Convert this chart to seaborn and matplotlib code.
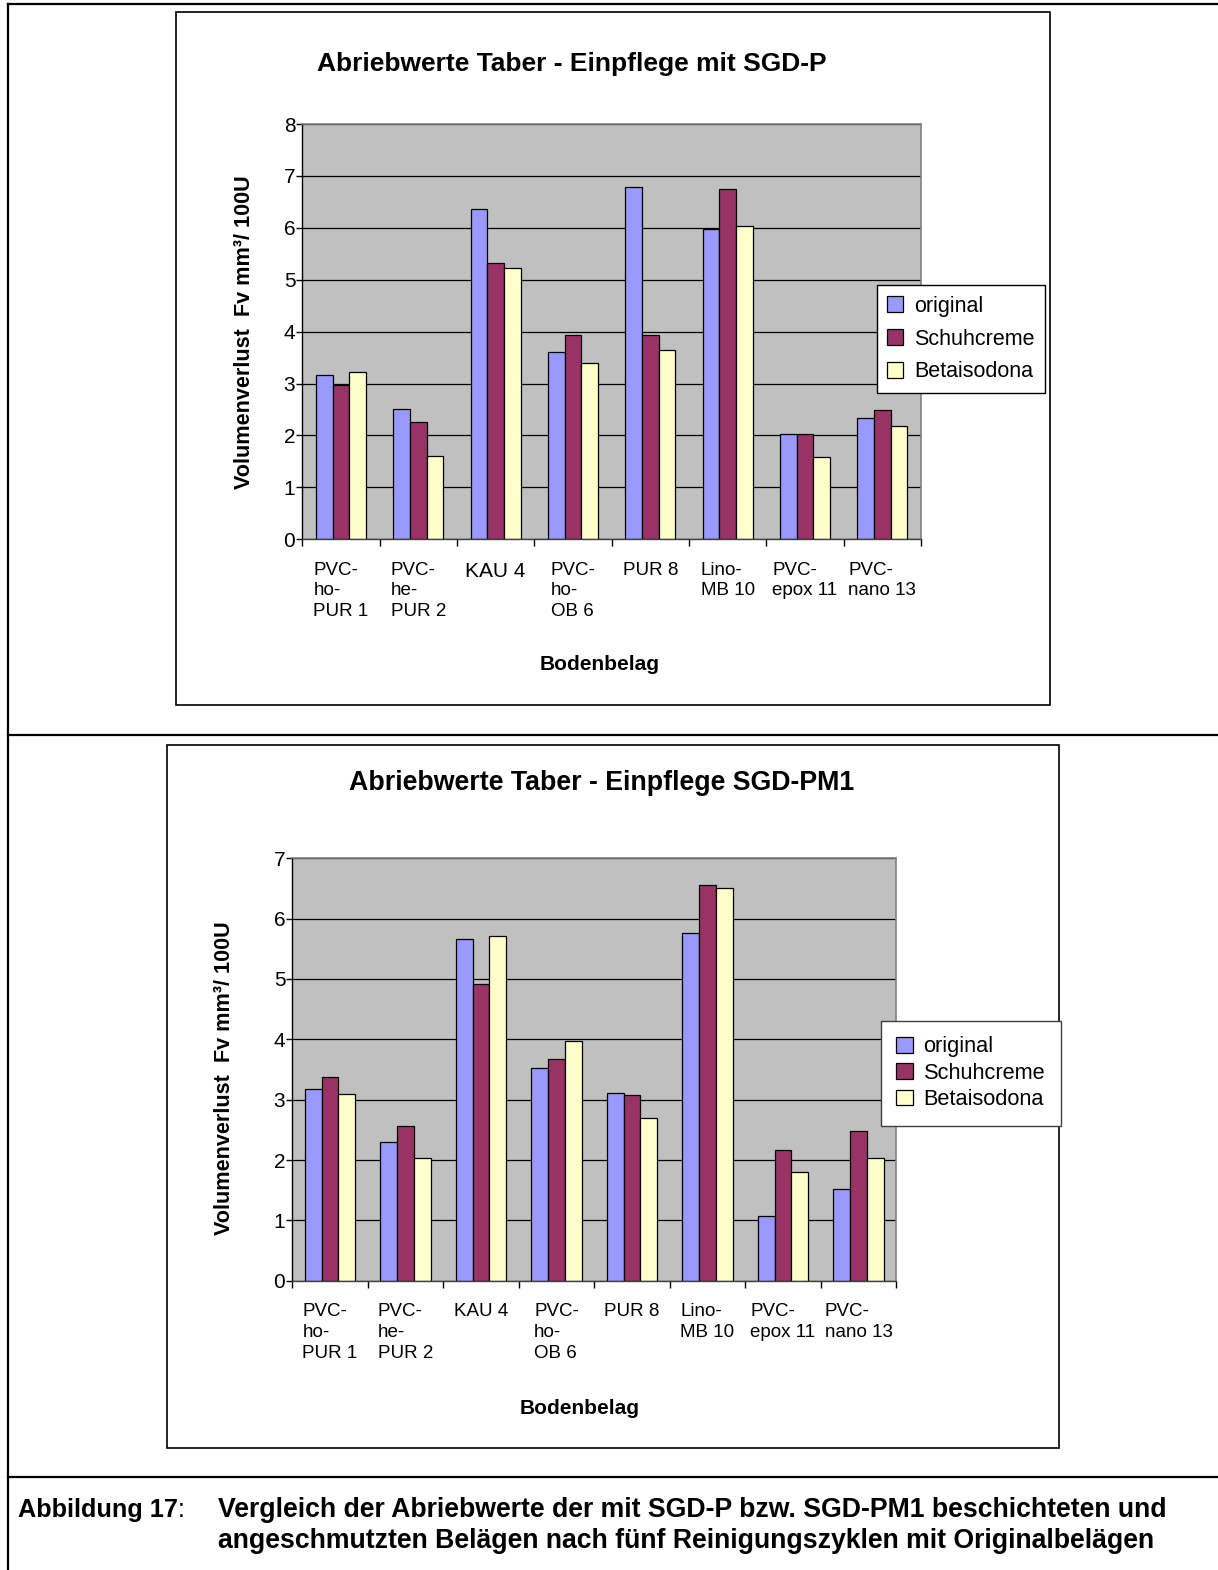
import numpy as np
import pandas as pd
import matplotlib
matplotlib.use("Agg")
import matplotlib.pyplot as plt
import seaborn as sns
from matplotlib.lines import Line2D
from matplotlib.patches import Rectangle

plt.rcParams['font.family'] = ['Liberation Sans', 'DejaVu Sans']

# ---------------- data ----------------
categories = ["PVC-\nho-\nPUR 1", "PVC-\nhe-\nPUR 2", "KAU 4", "PVC-\nho-\nOB 6",
              "PUR 8", "Lino-\nMB 10", "PVC-\nepox 11", "PVC-\nnano 13"]
series = ["original", "Schuhcreme", "Betaisodona"]
colors = ["#9999FF", "#993366", "#FFFFCC"]

top_original = [3.17, 2.51, 6.36, 3.61, 6.79, 5.98, 2.03, 2.33]
top_schuh = [2.97, 2.25, 5.32, 3.94, 3.94, 6.75, 2.03, 2.49]
top_beta = [3.23, 1.60, 5.23, 3.40, 3.65, 6.04, 1.59, 2.18]

bot_original = [3.18, 2.30, 5.66, 3.52, 3.11, 5.77, 1.07, 1.52]
bot_schuh = [3.37, 2.56, 4.91, 3.68, 3.08, 6.56, 2.17, 2.48]
bot_beta = [3.10, 2.03, 5.72, 3.97, 2.69, 6.50, 1.80, 2.03]

top_title = "Abriebwerte Taber - Einpflege mit SGD-P"
bot_title = "Abriebwerte Taber - Einpflege SGD-PM1"
y_label = "Volumenverlust  Fv mm³/ 100U"
x_label = "Bodenbelag"

W, H = 1218, 1570
fig = plt.figure(figsize=(W / 100, H / 100), dpi=100)


def fx(x):
    return x / W


def fy(y):
    return 1 - y / H


def axes_at(x0, y0, x1, y1):
    return fig.add_axes([fx(x0), fy(y1), fx(x1) - fx(x0), (y1 - y0) / H])


def draw(ax, orig, schuh, beta, ymax, width, xlab_pos, ylab_pos):
    df = pd.DataFrame({
        "Bodenbelag": categories * 3,
        "Wert": orig + schuh + beta,
        "Serie": [s for s in series for _ in categories],
    })
    sns.barplot(data=df, x="Bodenbelag", y="Wert", hue="Serie", order=categories,
                hue_order=series, palette=colors, saturation=1, width=width, gap=0,
                edgecolor="black", linewidth=0.9, errorbar=None, ax=ax)
    handles, labels = ax.get_legend_handles_labels()
    if ax.get_legend() is not None:
        ax.get_legend().remove()
    ax.set_facecolor("#C0C0C0")
    ax.set_xlim(-0.5, len(categories) - 0.5)
    ax.set_ylim(0, ymax)
    ax.set_yticks(range(0, ymax + 1))
    ax.yaxis.grid(True, color="black", linewidth=0.9)
    ax.xaxis.grid(False)
    ax.set_axisbelow(True)
    for s in ["top", "right"]:
        ax.spines[s].set_color("#808080")
        ax.spines[s].set_linewidth(1.2)
    ax.spines["left"].set_color("black")
    ax.spines["bottom"].set_color("#404040")
    ax.spines["left"].set_linewidth(1)
    ax.spines["bottom"].set_linewidth(1)
    ax.set_xticks(range(len(categories)))
    ax.set_xticklabels(categories, fontsize=13.5, linespacing=1.3,
                       multialignment="left", va="top")
    ax.set_xticks(np.arange(-0.5, len(categories), 1), minor=True)
    ax.tick_params(axis="x", which="major", length=0, pad=16)
    ax.tick_params(axis="x", which="minor", length=5, direction="out", width=1)
    ax.tick_params(axis="y", which="major", length=4, direction="out", width=1,
                   labelsize=15, pad=1)
    ax.set_xlabel(x_label, fontsize=15, fontweight="bold")
    ax.xaxis.set_label_coords(*xlab_pos)
    ax.xaxis.label.set_va("center")
    ax.set_ylabel(y_label, fontsize=15.6, fontweight="bold")
    ax.yaxis.set_label_coords(*ylab_pos)
    ax.yaxis.label.set_va("center")
    return handles, labels


# -------------- outer frame --------------
frame_kw = dict(color="black", linewidth=1.6, transform=fig.transFigure)
fig.add_artist(Line2D([fx(8), 1], [fy(4), fy(4)], **frame_kw))
fig.add_artist(Line2D([fx(8), fx(8)], [fy(4), 0], **frame_kw))
fig.add_artist(Line2D([fx(8), 1], [fy(735), fy(735)], **frame_kw))
fig.add_artist(Line2D([fx(8), 1], [fy(1477), fy(1477)], **frame_kw))

# chart boxes
fig.add_artist(Rectangle((fx(176), fy(705)), fx(1050) - fx(176), (705 - 12) / H,
                         transform=fig.transFigure, fill=False, edgecolor="black",
                         linewidth=1.2))
fig.add_artist(Rectangle((fx(167), fy(1448)), fx(1059) - fx(167), (1448 - 745) / H,
                         transform=fig.transFigure, fill=False, edgecolor="black",
                         linewidth=1.2))

# -------------- top chart --------------
ax1 = axes_at(302.3, 124, 921, 539.3)
h1, l1 = draw(ax1, top_original, top_schuh, top_beta, 8, 0.65,
              ((600 - 302.3) / 618.7, (539.3 - 665) / 415.3),
              ((245 - 302.3) / 618.7, 0.5))
ax1.get_xticklabels()[2].set_fontsize(15)
fig.text(fx(572), fy(64), top_title, ha="center", va="center",
         fontsize=19, fontweight="bold")
fig.legend(h1, l1, loc="upper left", bbox_to_anchor=(fx(876.5), fy(285)),
           frameon=True, fancybox=False, edgecolor="black", framealpha=1,
           borderaxespad=0, fontsize=15.5, handlelength=0.75, handleheight=0.75,
           handletextpad=0.5, labelspacing=0.55, borderpad=0.5).get_frame().set_linewidth(1)

# -------------- bottom chart --------------
ax2 = axes_at(292.3, 858.3, 896.3, 1280.7)
h2, l2 = draw(ax2, bot_original, bot_schuh, bot_beta, 7, 0.67,
              ((580 - 292.3) / 604, (1280.7 - 1408) / 422.4),
              ((225 - 292.3) / 604, 0.48))
fig.text(fx(601.5), fy(783), bot_title, ha="center", va="center",
         fontsize=19.3, fontweight="bold")
fig.legend(h2, l2, loc="upper left", bbox_to_anchor=(fx(880.5), fy(1020.5)),
           frameon=True, fancybox=False, edgecolor="#404040", framealpha=1,
           borderaxespad=0, fontsize=15.7, handlelength=0.75, handleheight=0.75,
           handletextpad=0.5, labelspacing=0.25, borderpad=0.72).get_frame().set_linewidth(1)

# -------------- caption --------------
fig.text(fx(18), fy(1510), "Abbildung 17", ha="left", va="center",
         fontsize=18.2, fontweight="bold")
fig.text(fx(178), fy(1510), ":", ha="left", va="center", fontsize=18.2)
fig.text(fx(218), fy(1510),
         "Vergleich der Abriebwerte der mit SGD-P bzw. SGD-PM1 beschichteten und",
         ha="left", va="center", fontsize=19.2, fontweight="bold")
fig.text(fx(218), fy(1541),
         "angeschmutzten Belägen nach fünf Reinigungszyklen mit Originalbelägen",
         ha="left", va="center", fontsize=19.2, fontweight="bold")

fig.savefig("out.png", dpi=100, facecolor="white")
